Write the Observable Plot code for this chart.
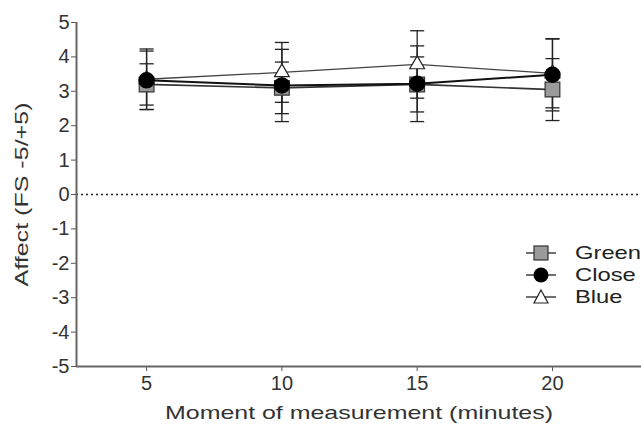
<!DOCTYPE html>
<html>
<head>
<meta charset="utf-8">
<script src="https://cdn.jsdelivr.net/npm/d3@7"></script>
<script src="https://cdn.jsdelivr.net/npm/@observablehq/plot@0.6"></script>
<style>
  html, body { margin: 0; padding: 0; background: #fff; }
  #wrap { position: relative; width: 641px; height: 434px; overflow: hidden; font-family: "Liberation Sans", Arial, sans-serif; }
  #wrap svg.plot { position: absolute; left: 0; top: 0; z-index: 0; }
  #legend { position: absolute; left: 525px; top: 242px; z-index: 2; font-size: 19px; color: #222; line-height: 22px; white-space: nowrap; }
  #legend div { display: flex; align-items: center; height: 22px; }
  #legend span { display: inline-block; transform: scaleX(1.25); transform-origin: left center; }
  #legend svg { margin-right: 18px; }
</style>
</head>
<body>
<div id="wrap"><div id="legend"></div></div>
<script>
// Data
const minutes = [5, 10, 15, 20];
const seriesNames = ["Green", "Close", "Blue"];
const greenMean = [3.2, 3.1, 3.2, 3.05];
const greenSD   = [0.6, 0.75, 0.8, 0.9];
const closeMean = [3.32, 3.17, 3.22, 3.48];
const closeSD   = [0.85, 1.05, 1.1, 1.05];
const blueMean  = [3.35, 3.55, 3.78, 3.52];
const blueSD    = [0.88, 0.87, 0.98, 1.0];
const yTicks = [5, 4, 3, 2, 1, 0, -1, -2, -3, -4, -5];
const xTicks = [5, 10, 15, 20];
const xLabel = "Moment of measurement (minutes)";
const yLabel = "Affect (FS -5/+5)";

const means = {Green: greenMean, Close: closeMean, Blue: blueMean};
const sds = {Green: greenSD, Close: closeSD, Blue: blueSD};
const rows = [];
for (const s of seriesNames) {
  minutes.forEach((m, i) => rows.push({series: s, x: m, y: means[s][i], lo: means[s][i] - sds[s][i], hi: means[s][i] + sds[s][i]}));
}
const bySeries = s => rows.filter(d => d.series === s);
const capW = 0.26;

const plot = Plot.plot({
  width: 641,
  height: 434,
  marginLeft: 76,
  marginRight: 0,
  marginTop: 22,
  marginBottom: 68,
  style: {fontFamily: "Liberation Sans, Arial, sans-serif", background: "white", fontSize: "18px"},
  x: {domain: [2.41, 23.29]},
  y: {domain: [-5, 5]},
  marks: [
    Plot.ruleY([0], {stroke: "#222", strokeWidth: 1.6, strokeDasharray: "2,3"}),
    Plot.axisX(xTicks, {tickSize: 5, tickPadding: 4, label: null, stroke: "#555", fill: "#333"}),
    Plot.axisY(yTicks, {tickSize: 5, tickPadding: 2, label: null, stroke: "#555", fill: "#333", tickFormat: d => String(d)}),
    Plot.ruleX([2.41], {stroke: "#666", strokeWidth: 2}),
    Plot.ruleY([-5], {stroke: "#666", strokeWidth: 2}),
    Plot.text([yLabel], {frameAnchor: "left", textAnchor: "middle", dx: -55, rotate: -90, fontSize: 19, fill: "#333", className: "ylab"}),
    Plot.text([xLabel], {frameAnchor: "bottom", textAnchor: "middle", dy: 52, fontSize: 19, fill: "#333", className: "xlab"}),
    // error bars
    Plot.ruleX(rows, {x: "x", y1: "lo", y2: "hi", stroke: "#222", strokeWidth: 1.3}),
    Plot.link(rows, {x1: d => d.x - capW, x2: d => d.x + capW, y1: "hi", y2: "hi", stroke: "#222", strokeWidth: 1.3}),
    Plot.link(rows, {x1: d => d.x - capW, x2: d => d.x + capW, y1: "lo", y2: "lo", stroke: "#222", strokeWidth: 1.3}),
    // lines
    Plot.line(bySeries("Blue"), {x: "x", y: "y", stroke: "#444", strokeWidth: 1.3}),
    Plot.line(bySeries("Green"), {x: "x", y: "y", stroke: "#333", strokeWidth: 1.6}),
    Plot.line(bySeries("Close"), {x: "x", y: "y", stroke: "#111", strokeWidth: 2}),
    // markers
    Plot.dot(bySeries("Green"), {x: "x", y: "y", symbol: "square", r: 8.3, fill: "#9a9a9a", stroke: "#333", strokeWidth: 1.2}),
    Plot.dot(bySeries("Blue"), {x: "x", y: "y", symbol: "triangle", r: 5.5, fill: "white", stroke: "#222", strokeWidth: 1.2}),
    Plot.dot(bySeries("Close"), {x: "x", y: "y", symbol: "circle", r: 7.5, fill: "#000", stroke: "#000"})
  ]
});
plot.classList.add("plot");
document.getElementById("wrap").appendChild(plot);

// tick label size: every text that is not one of the two axis titles
plot.querySelectorAll("text").forEach(t => {
  if (t.closest(".xlab") || t.closest(".ylab")) return;
  t.setAttribute("font-size", "20");
  t.style.setProperty("font-size", "20px", "important");
});

// stretch the axis titles to the reference's wide lettering
const xl = plot.querySelector(".xlab text");
if (xl) { xl.setAttribute("textLength", 388); xl.setAttribute("lengthAdjust", "spacingAndGlyphs"); }
const yl = plot.querySelector(".ylab text");
if (yl) { yl.setAttribute("textLength", 184); yl.setAttribute("lengthAdjust", "spacingAndGlyphs"); }

// Legend
const legend = document.getElementById("legend");
const sym = {
  Green: '<rect x="9" y="4" width="14" height="14" fill="#9a9a9a" stroke="#333" stroke-width="1.2"/>',
  Close: '<circle cx="16" cy="11" r="7.5" fill="#000"/>',
  Blue: '<path d="M16,4 L23,17 L9,17 Z" fill="white" stroke="#222" stroke-width="1.2"/>'
};
for (const s of seriesNames) {
  const row = document.createElement("div");
  row.innerHTML = '<svg width="32" height="22"><line x1="1" x2="31" y1="11" y2="11" stroke="#222" stroke-width="1.3"/>' + sym[s] + '</svg><span>' + s + '</span>';
  legend.appendChild(row);
}
</script>
</body>
</html>
